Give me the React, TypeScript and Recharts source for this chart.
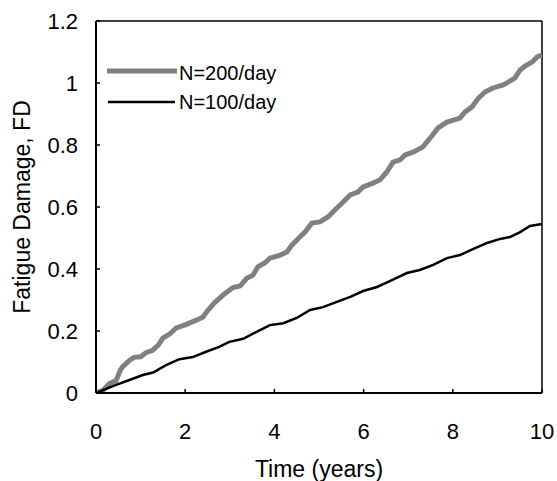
import React from "react";
import { LineChart, Line, XAxis, YAxis, ReferenceLine, Legend } from "recharts";

const xTicks = [0, 2, 4, 6, 8, 10];
const yTicks = [0, 0.2, 0.4, 0.6, 0.8, 1, 1.2];

const seriesNames = ["N=200/day", "N=100/day"];

const time200 = [0, 0.15, 0.3, 0.45, 0.55, 0.6, 0.75, 0.85, 1.0, 1.12, 1.27, 1.4, 1.5, 1.65, 1.8, 2.0, 2.25, 2.4, 2.47, 2.65, 2.85, 3.07, 3.23, 3.38, 3.52, 3.63, 3.79, 3.9, 4.13, 4.28, 4.39, 4.57, 4.69, 4.84, 5.02, 5.2, 5.4, 5.52, 5.7, 5.87, 5.99, 6.21, 6.37, 6.52, 6.66, 6.82, 6.93, 7.11, 7.33, 7.49, 7.67, 7.87, 8.16, 8.27, 8.43, 8.57, 8.72, 8.9, 9.13, 9.24, 9.39, 9.51, 9.62, 9.78, 9.89, 10];
const fd200 = [0, 0.008, 0.03, 0.04, 0.075, 0.085, 0.105, 0.115, 0.117, 0.13, 0.138, 0.155, 0.177, 0.19, 0.21, 0.22, 0.235, 0.245, 0.26, 0.29, 0.316, 0.34, 0.345, 0.37, 0.38, 0.407, 0.42, 0.435, 0.445, 0.455, 0.477, 0.503, 0.52, 0.548, 0.552, 0.568, 0.597, 0.613, 0.639, 0.648, 0.665, 0.677, 0.688, 0.713, 0.745, 0.752, 0.768, 0.777, 0.794, 0.822, 0.855, 0.874, 0.887, 0.906, 0.923, 0.95, 0.971, 0.984, 0.994, 1.003, 1.016, 1.042, 1.055, 1.068, 1.084, 1.09];

const time100 = [0, 0.45, 0.75, 1.05, 1.28, 1.57, 1.87, 2.17, 2.47, 2.76, 2.99, 3.3, 3.6, 3.9, 4.2, 4.5, 4.8, 5.09, 5.4, 5.7, 5.99, 6.3, 6.6, 6.97, 7.26, 7.56, 7.87, 8.16, 8.45, 8.77, 9.06, 9.28, 9.51, 9.73, 10];
const fd100 = [0, 0.026, 0.042, 0.058, 0.066, 0.09, 0.109, 0.116, 0.133, 0.149, 0.165, 0.175, 0.197, 0.219, 0.225, 0.242, 0.268, 0.277, 0.294, 0.31, 0.329, 0.342, 0.362, 0.387, 0.397, 0.413, 0.435, 0.445, 0.464, 0.484, 0.497, 0.503, 0.519, 0.539, 0.545];

const data200 = time200.map((t, i) => ({ t, fd: fd200[i] }));
const data100 = time100.map((t, i) => ({ t, fd: fd100[i] }));

const FONT = "'Liberation Sans', Arial, sans-serif";

const XTitle = (props: any) => {
  const vb = props.viewBox || {};
  return (
    <text x={vb.x + vb.width / 2} y={vb.y + 84} textAnchor="middle" fontSize={23} fill="#000" fontFamily={FONT}>
      Time (years)
    </text>
  );
};

const YTitle = (props: any) => {
  const vb = props.viewBox || {};
  const x = vb.x + 30;
  const y = vb.y + vb.height / 2;
  return (
    <text x={x} y={y} textAnchor="middle" fontSize={23} fill="#000" fontFamily={FONT} transform={`rotate(-90, ${x}, ${y})`}>
      Fatigue Damage, FD
    </text>
  );
};

const LegendContent = () => (
  <svg width={200} height={60} style={{ display: "block" }}>
    <line x1={7} x2={77} y1={16} y2={16} stroke="#808080" strokeWidth={5} />
    <text x={79} y={18} dy="0.35em" fontSize={20} fontFamily={FONT} fill="#000">{seriesNames[0]}</text>
    <line x1={8} x2={75} y1={47} y2={47} stroke="#000" strokeWidth={2.5} />
    <text x={79} y={47} dy="0.35em" fontSize={20} fontFamily={FONT} fill="#000">{seriesNames[1]}</text>
  </svg>
);

export default function App() {
  return (
    <div style={{ position: "absolute", left: 0, top: 0, background: "#fff", fontFamily: FONT }}>
      <LineChart width={557} height={481} margin={{ top: 21, right: 15, left: 0, bottom: 0 }}>
        <XAxis
          type="number"
          dataKey="t"
          domain={[0, 10]}
          ticks={xTicks}
          allowDataOverflow
          height={88}
          tickSize={-4}
          tickMargin={34}
          tick={{ fontSize: 22, fill: "#000", fontFamily: FONT }}
          axisLine={{ stroke: "#000", strokeWidth: 2 }}
          tickLine={{ stroke: "#000", strokeWidth: 1.5 }}
          label={<XTitle />}
        />
        <YAxis
          type="number"
          dataKey="fd"
          domain={[0, 1.2]}
          ticks={yTicks}
          allowDataOverflow
          width={96}
          tickSize={-4}
          tickMargin={22}
          tick={{ fontSize: 22, fill: "#000", fontFamily: FONT }}
          axisLine={{ stroke: "#000", strokeWidth: 2 }}
          tickLine={{ stroke: "#000", strokeWidth: 1.5 }}
          label={<YTitle />}
        />
        <ReferenceLine y={1.2} stroke="#000" strokeWidth={1.5} />
        <ReferenceLine x={10} stroke="#000" strokeWidth={1.5} />
        <Legend
          layout="vertical"
          align="center"
          verticalAlign="middle"
          content={<LegendContent />}
          wrapperStyle={{ left: 100, top: 55, width: 200, height: 60 }}
        />
        <Line
          data={data200}
          dataKey="fd"
          name={seriesNames[0]}
          type="linear"
          stroke="#808080"
          strokeWidth={5}
          dot={false}
          isAnimationActive={false}
        />
        <Line
          data={data100}
          dataKey="fd"
          name={seriesNames[1]}
          type="linear"
          stroke="#000"
          strokeWidth={2.5}
          dot={false}
          isAnimationActive={false}
        />
      </LineChart>
    </div>
  );
}
